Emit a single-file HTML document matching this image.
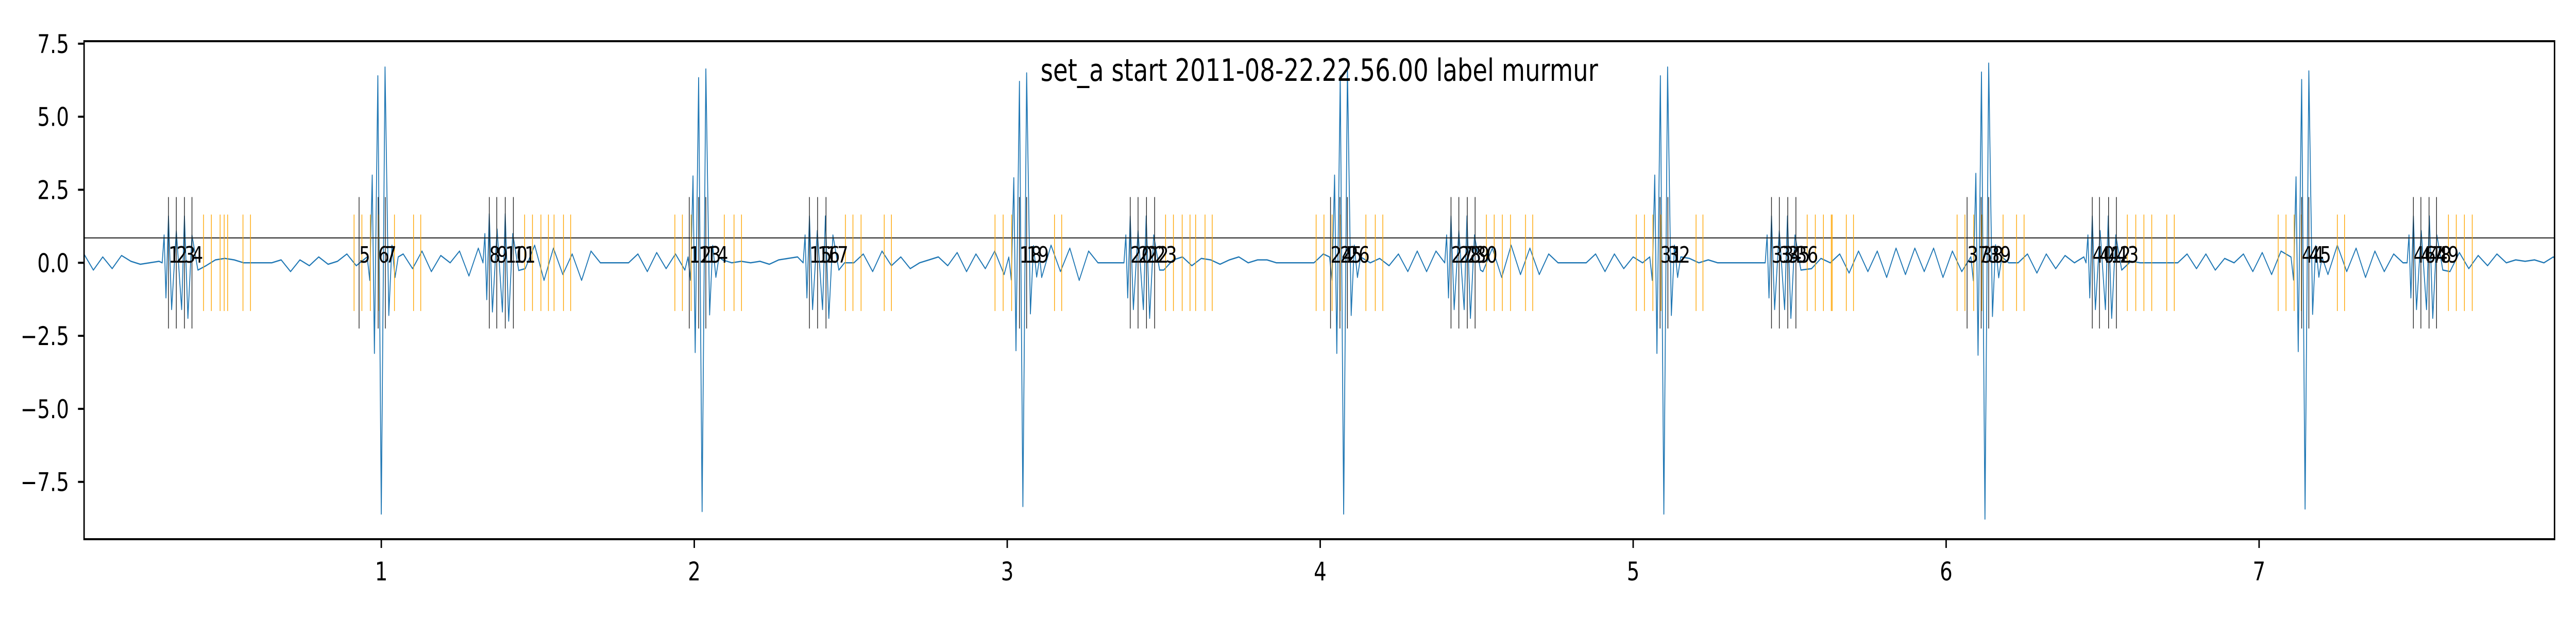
<!DOCTYPE html>
<html><head><meta charset="utf-8"><style>
html,body{margin:0;padding:0;background:#fff;width:100vw;height:100vh;overflow:hidden;}
svg{display:block;position:absolute;left:0;top:0;width:100vw;height:100vh;font-family:"DejaVu Sans","Liberation Sans",sans-serif;}
</style></head>
<body>
<svg id="chart" viewBox="0 0 7200 1200" preserveAspectRatio="none" xmlns="http://www.w3.org/2000/svg">
<rect x="0" y="0" width="7200" height="1200" fill="#fff"/>
<g id="plot"></g>
</svg>
<script>
// ---- data ----
const xTicks = [1,2,3,4,5,6,7];
const yTicks = [7.5,5.0,2.5,0.0,-2.5,-5.0,-7.5];
const yTickLabels = ["7.5","5.0","2.5","0.0","\u22122.5","\u22125.0","\u22127.5"];
const titleText = "set_a start 2011-08-22.22.56.00 label murmur";
const thresholdValue = 0.85;
const blackMarkerTimes = [0.320,0.345,0.371,0.395,0.929,0.990,1.013,1.345,1.369,1.396,1.422,1.984,2.014,2.037,2.368,2.394,2.421,3.039,3.062,3.393,3.418,3.445,3.471,4.033,4.063,4.087,4.418,4.443,4.470,4.495,5.086,5.111,5.442,5.467,5.494,5.520,6.067,6.112,6.136,6.467,6.490,6.519,6.544,7.136,7.159,7.493,7.517,7.543,7.567];
const orangeMarkerTimes = [0.432,0.457,0.485,0.498,0.509,0.558,0.582,0.913,0.938,0.965,0.991,1.042,1.103,1.126,1.458,1.483,1.510,1.534,1.552,1.582,1.605,1.938,1.962,1.990,2.096,2.127,2.151,2.483,2.507,2.533,2.607,2.630,2.961,2.987,3.014,3.151,3.174,3.506,3.531,3.559,3.584,3.602,3.632,3.655,3.987,4.012,4.038,4.064,4.146,4.176,4.200,4.531,4.556,4.582,4.608,4.656,4.679,5.010,5.036,5.063,5.089,5.201,5.223,5.556,5.582,5.608,5.633,5.636,5.681,5.704,6.035,6.060,6.088,6.114,6.182,6.225,6.249,6.579,6.606,6.632,6.657,6.705,6.729,7.061,7.086,7.112,7.135,7.250,7.273,7.605,7.630,7.656,7.681];
const bigBeatTimes = [1.000,2.025,3.050,4.075,5.098,6.124,7.147];
const bigBeatScale = [1.0,0.99,0.97,1.0,1.0,1.02,0.98];
const bigBeatOffsets = [-0.045,-0.037,-0.029,-0.022,-0.011,0,0.012,0.024,0.034,0.044,0.054];
const bigBeatValues = [0.2,-0.6,3.0,-3.1,6.4,-8.6,6.7,-1.8,0.6,-0.5,0.2];
const smallBeatTimes = [0.350,1.375,2.398,3.423,4.448,5.472,6.497,7.523];
const smallBeatScale = [1.0,1.05,1.0,1.0,1.0,1.0,1.0,1.0];
const smallBeatOffsets = [-0.05,-0.044,-0.038,-0.03,-0.02,-0.005,0.012,0.021,0.032,0.045,0.064];
const smallBeatValues = [0.0,0.95,-1.2,1.6,-1.6,1.1,-1.6,1.6,-1.9,0.95,-0.25];
const bgStart = 0.05, bgStep = 0.03;
const bgValues = [
0.3,-0.25,0.2,-0.2,0.25,0.05,-0.05,0.0,0.05,-0.05,0.0,0.05,0.0,-0.1,0.1,0.15,
0.1,0.0,0.0,0.0,0.0,0.1,-0.3,0.1,-0.1,0.2,-0.05,0.05,0.3,-0.1,0.2,-0.15,0.1,0.1,0.3,-0.2,0.4,-0.3,0.25,0.0,0.4,-0.45,0.5,-0.3,0.4,-0.5,0.5,-0.2,0.6,-0.6,0.5,-0.4,0.3,-0.6,0.4,
0.0,0.0,0.0,0.0,0.3,-0.3,0.35,-0.2,0.3,-0.25,0.0,0.2,-0.1,0.1,0.0,0.05,0.0,0.05,-0.05,0.1,0.15,0.2,0.1,
0.0,0.0,0.0,0.0,0.0,0.3,-0.3,0.4,-0.1,0.2,-0.2,0.0,0.1,0.2,-0.1,0.35,-0.3,0.3,-0.2,0.4,-0.4,0.5,-0.3,0.4,-0.5,0.6,-0.3,0.5,-0.6,0.4,0.0,
0.0,0.0,0.0,0.3,-0.2,0.3,-0.25,0.1,0.2,-0.1,0.15,0.1,-0.05,0.1,0.2,0.0,0.1,0.1,
0.0,0.0,0.0,0.0,0.0,0.3,-0.3,0.3,-0.1,0.2,0.0,0.15,-0.1,0.3,-0.3,0.4,-0.3,0.4,-0.5,0.5,-0.4,0.6,-0.3,0.5,-0.5,0.6,-0.4,0.5,-0.4,0.3,
0.0,0.0,0.0,0.0,0.3,-0.3,0.3,-0.2,0.2,0.0,0.3,-0.1,0.1,0.0,0.15,0.0,0.1,
0.0,0.0,0.0,0.0,0.0,0.3,-0.25,0.35,-0.1,0.25,-0.2,0.15,0.0,0.3,-0.35,0.4,-0.3,0.4,-0.5,0.5,-0.4,0.5,-0.3,0.5,-0.5,0.4,-0.3,0.3,0.0,
0.0,0.0,0.0,0.0,0.3,-0.35,0.3,-0.2,0.25,0.0,0.2,-0.1,0.2,0.0,0.15,0.05,
0.0,0.0,0.0,0.0,0.0,0.3,-0.2,0.3,-0.25,0.15,0.0,0.3,-0.3,0.35,-0.4,0.4,-0.35,0.5,-0.5,0.45,-0.4,0.6,-0.3,0.5,-0.5,0.4,-0.3,0.3,
0.0,0.0,0.0,0.0,0.3,-0.3,0.35,-0.2,0.25,-0.1,0.3,0.0,0.1,0.05,0.1,0.0,0.2,-0.1,
0.0,0.0,0.0,0.0,0.0,0.2,-0.25,0.3,-0.2,0.25,-0.3,0.3,-0.4,0.35,-0.5,0.3,-0.3,0.4,-0.4,0.3,-0.4,0.5,-0.3,0.4,-0.3,0.5,-0.5,0.6,-0.4,0.5
];

// ---- layout ----
const L = 235, R = 7140, T = 80, B = 1047;
const xMin = 0.0503, xMax = 7.944;
const yMin = -9.462, yMax = 7.585;
const sx = t => L + (t - xMin) / (xMax - xMin) * (R - L);
const sy = v => T + (yMax - v) / (yMax - yMin) * (B - T);
const NS = "http://www.w3.org/2000/svg";
const plot = document.getElementById('plot');
const vw = window.innerWidth || 7200, vh = window.innerHeight || 1200;
const rawFix = (vh / 1200) / (vw / 7200);
const textFix = 1 + (rawFix - 1) * 0.265;
function mk(tag, attrs, parent) {
  const e = document.createElementNS(NS, tag);
  for (const k in attrs) e.setAttribute(k, attrs[k]);
  (parent || plot).appendChild(e);
  return e;
}
function fixText(e, x) {
  if (Math.abs(textFix - 1) > 0.01) {
    e.setAttribute('transform', 'translate(' + x + ',0) scale(' + textFix + ',1) translate(' + (-x) + ',0)');
  }
}

const defs = mk('defs', {});
const cp = mk('clipPath', {id: 'clip'}, defs);
mk('rect', {x: L, y: T, width: R - L, height: B - T}, cp);
const inner = mk('g', {'clip-path': 'url(#clip)'});



const pts = [];
const windows = [];
bigBeatTimes.forEach((c, i) => {
  windows.push([c + bigBeatOffsets[0], c + bigBeatOffsets[bigBeatOffsets.length - 1]]);
  bigBeatOffsets.forEach((o, j) => pts.push([c + o, bigBeatValues[j] * bigBeatScale[i]]));
});
smallBeatTimes.forEach((c, i) => {
  windows.push([c + smallBeatOffsets[0], c + smallBeatOffsets[smallBeatOffsets.length - 1]]);
  smallBeatOffsets.forEach((o, j) => pts.push([c + o, smallBeatValues[j] * smallBeatScale[i]]));
});
bgValues.forEach((v, i) => {
  const t = bgStart + i * bgStep;
  if (!windows.some(w => t >= w[0] - 0.005 && t <= w[1] + 0.005)) pts.push([t, v]);
});
pts.sort((a, b) => a[0] - b[0]);
const sig = mk('polyline', {
  points: pts.map(p => sx(p[0]).toFixed(1) + ',' + sy(p[1]).toFixed(1)).join(' '),
  fill: 'none', stroke: '#1f77b4', 'stroke-width': 2.5, 'stroke-linejoin': 'round'
}, inner);



const th = mk('line', {x1: L, x2: R, y1: sy(thresholdValue), y2: sy(thresholdValue), stroke: '#222', 'stroke-width': 2}, inner);



orangeMarkerTimes.forEach(t => {
  const l = mk('line', {x1: sx(t), x2: sx(t), y1: sy(1.65), y2: sy(-1.65), stroke: '#ffa500', 'stroke-width': 2}, inner);
  
  
});
blackMarkerTimes.forEach((t, i) => {
  const l = mk('line', {x1: sx(t), x2: sx(t), y1: sy(2.25), y2: sy(-2.25), stroke: '#222', 'stroke-width': 2}, inner);
  
  
  const tx = mk('text', {x: sx(t), y: sy(0), 'font-size': 44, fill: '#000'}, inner);
  tx.textContent = String(i + 1);
  fixText(tx, sx(t));
  
  
});

const ti = mk('text', {x: (L + R) / 2, y: 157, 'font-size': 60, 'text-anchor': 'middle', fill: '#000'});
ti.textContent = titleText;
fixText(ti, (L + R) / 2);



const fr = mk('rect', {x: L, y: T, width: R - L, height: B - T, fill: 'none', stroke: '#000', 'stroke-width': 4});



xTicks.forEach(v => {
  const x = sx(v);
  const tk = mk('line', {x1: x, x2: x, y1: B, y2: B + 17, stroke: '#000', 'stroke-width': 4});
  
  
  const tl = mk('text', {x: x, y: B + 80, 'font-size': 50, 'text-anchor': 'middle', fill: '#000'});
  tl.textContent = String(v);
  fixText(tl, x);
  
  
});
yTicks.forEach((v, i) => {
  const y = sy(v);
  const tk = mk('line', {x1: L - 17, x2: L, y1: y, y2: y, stroke: '#000', 'stroke-width': 4});
  
  
  const tl = mk('text', {x: L - 42, y: y + 18, 'font-size': 50, 'text-anchor': 'end', fill: '#000'});
  tl.textContent = yTickLabels[i];
  fixText(tl, L - 42);
  
  
});
</script>
</body></html>
